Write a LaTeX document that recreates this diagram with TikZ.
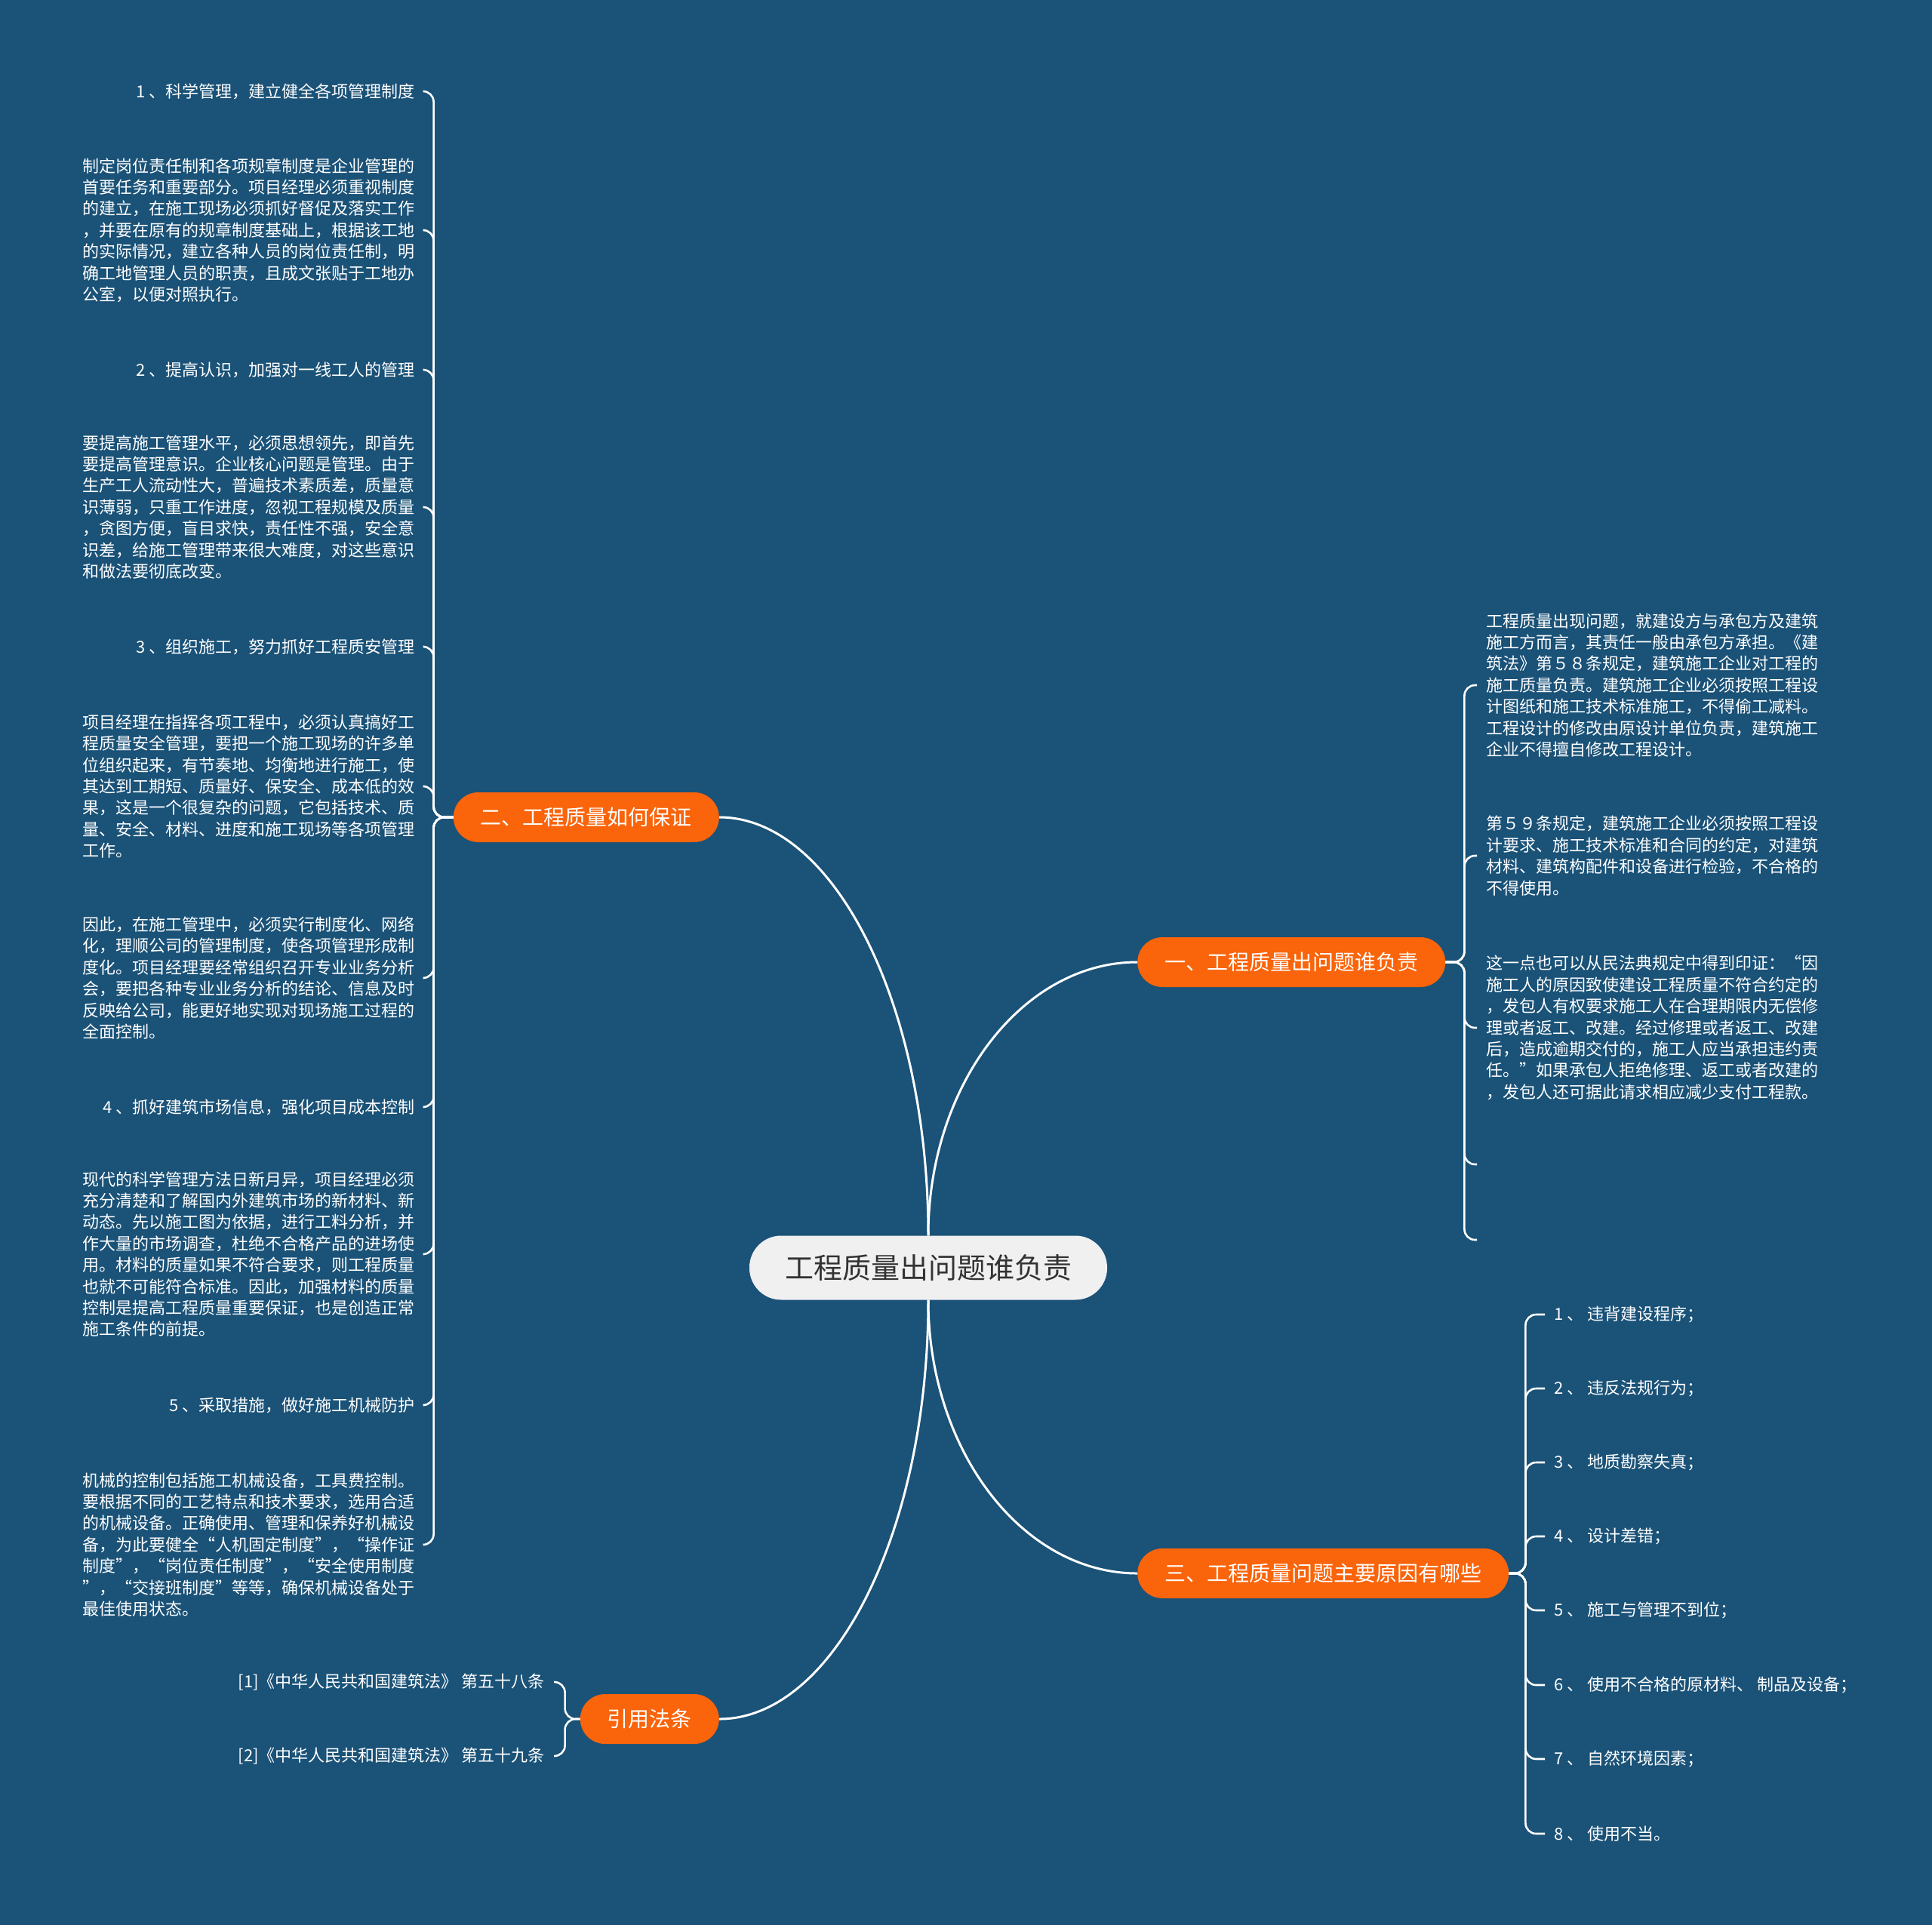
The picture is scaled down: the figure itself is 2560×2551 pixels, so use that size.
\documentclass[tikz,border=0pt]{standalone}
\usepackage{fontspec}
\setmainfont{Noto Sans CJK SC}
\usetikzlibrary{calc}
\definecolor{bgblue}{HTML}{1A5278}
\definecolor{pillorange}{HTML}{FA640A}
\definecolor{rootgray}{HTML}{F0F0F0}
\definecolor{roottext}{HTML}{333333}

\begin{document}
\begin{tikzpicture}[
  x=1pt, y=-1pt,
  rootnode/.style={rectangle, fill=rootgray, text=roottext, rounded corners=42pt, minimum height=85pt, inner xsep=47pt, font=\fontsize{38pt}{46pt}\selectfont},
  branchnode/.style={rectangle, fill=pillorange, text=white, rounded corners=33pt, minimum height=66pt, inner xsep=36pt, font=\fontsize{28pt}{34pt}\selectfont},
  leafnode/.style={inner xsep=12pt, inner ysep=0pt, text=white, align=left, font=\fontsize{22pt}{28.4pt}\selectfont},
  link/.style={draw=white, line width=3pt},
  twig/.style={draw=white, line width=2.6pt, rounded corners=14pt},
]
\useasboundingbox (0,0) rectangle (2560,2551);
\fill[bgblue] (0,0) rectangle (2560,2551);

\node[rootnode] (root) at (1230,1680) {工程质量出问题谁负责};
\node[branchnode, anchor=east] (two)   at (953,1083)  {二、工程质量如何保证};
\node[branchnode, anchor=west] (one)   at (1507,1275) {一、工程质量出问题谁负责};
\node[branchnode, anchor=west] (three) at (1507,2085) {三、工程质量问题主要原因有哪些};
\node[branchnode, anchor=east] (cite)  at (953,2278)  {引用法条};

\node[leafnode, anchor=east] (h1) at (562,121) {1 、科学管理，建立健全各项管理制度};
\node[leafnode, anchor=east] (p1) at (562,305) {制定岗位责任制和各项规章制度是企业管理的\\首要任务和重要部分。项目经理必须重视制度\\的建立，在施工现场必须抓好督促及落实工作\\，并要在原有的规章制度基础上，根据该工地\\的实际情况，建立各种人员的岗位责任制，明\\确工地管理人员的职责，且成文张贴于工地办\\公室，以便对照执行。};
\node[leafnode, anchor=east] (h2) at (562,490) {2 、提高认识，加强对一线工人的管理};
\node[leafnode, anchor=east] (p2) at (562,672) {要提高施工管理水平，必须思想领先，即首先\\要提高管理意识。企业核心问题是管理。由于\\生产工人流动性大，普遍技术素质差，质量意\\识薄弱，只重工作进度，忽视工程规模及质量\\，贪图方便，盲目求快，责任性不强，安全意\\识差，给施工管理带来很大难度，对这些意识\\和做法要彻底改变。};
\node[leafnode, anchor=east] (h3) at (562,857) {3 、组织施工，努力抓好工程质安管理};
\node[leafnode, anchor=east] (p3) at (562,1042) {项目经理在指挥各项工程中，必须认真搞好工\\程质量安全管理，要把一个施工现场的许多单\\位组织起来，有节奏地、均衡地进行施工，使\\其达到工期短、质量好、保安全、成本低的效\\果，这是一个很复杂的问题，它包括技术、质\\量、安全、材料、进度和施工现场等各项管理\\工作。};
\node[leafnode, anchor=east] (p4) at (562,1296) {因此，在施工管理中，必须实行制度化、网络\\化，理顺公司的管理制度，使各项管理形成制\\度化。项目经理要经常组织召开专业业务分析\\会，要把各种专业业务分析的结论、信息及时\\反映给公司，能更好地实现对现场施工过程的\\全面控制。};
\node[leafnode, anchor=east] (h4) at (562,1467) {4 、抓好建筑市场信息，强化项目成本控制};
\node[leafnode, anchor=east] (p5) at (562,1662) {现代的科学管理方法日新月异，项目经理必须\\充分清楚和了解国内外建筑市场的新材料、新\\动态。先以施工图为依据，进行工料分析，并\\作大量的市场调查，杜绝不合格产品的进场使\\用。材料的质量如果不符合要求，则工程质量\\也就不可能符合标准。因此，加强材料的质量\\控制是提高工程质量重要保证，也是创造正常\\施工条件的前提。};
\node[leafnode, anchor=east] (h5) at (562,1862) {5 、采取措施，做好施工机械防护};
\node[leafnode, anchor=east] (p6) at (562,2047) {机械的控制包括施工机械设备，工具费控制。\\要根据不同的工艺特点和技术要求，选用合适\\的机械设备。正确使用、管理和保养好机械设\\备，为此要健全“人机固定制度”，“操作证\\制度”，“岗位责任制度”，“安全使用制度\\”，“交接班制度”等等，确保机械设备处于\\最佳使用状态。};

\node[leafnode, anchor=west] (r1) at (1957,908) {工程质量出现问题，就建设方与承包方及建筑\\施工方而言，其责任一般由承包方承担。《建\\筑法》第５８条规定，建筑施工企业对工程的\\施工质量负责。建筑施工企业必须按照工程设\\计图纸和施工技术标准施工，不得偷工减料。\\工程设计的修改由原设计单位负责，建筑施工\\企业不得擅自修改工程设计。};
\node[leafnode, anchor=west] (r2) at (1957,1134) {第５９条规定，建筑施工企业必须按照工程设\\计要求、施工技术标准和合同的约定，对建筑\\材料、建筑构配件和设备进行检验，不合格的\\不得使用。};
\node[leafnode, anchor=west] (r3) at (1957,1362) {这一点也可以从民法典规定中得到印证：“因\\施工人的原因致使建设工程质量不符合约定的\\，发包人有权要求施工人在合理期限内无偿修\\理或者返工、改建。经过修理或者返工、改建\\后，造成逾期交付的，施工人应当承担违约责\\任。”如果承包人拒绝修理、返工或者改建的\\，发包人还可据此请求相应减少支付工程款。};
\coordinate (r4) at (1957,1543);
\coordinate (r5) at (1957,1643);

\node[leafnode, anchor=west] (t1) at (2047,1742) {1 、 违背建设程序；};
\node[leafnode, anchor=west] (t2) at (2047,1840) {2 、 违反法规行为；};
\node[leafnode, anchor=west] (t3) at (2047,1938) {3 、 地质勘察失真；};
\node[leafnode, anchor=west] (t4) at (2047,2036) {4 、 设计差错；};
\node[leafnode, anchor=west] (t5) at (2047,2134) {5 、 施工与管理不到位；};
\node[leafnode, anchor=west] (t6) at (2047,2233) {6 、 使用不合格的原材料、 制品及设备；};
\node[leafnode, anchor=west] (t7) at (2047,2331) {7 、 自然环境因素；};
\node[leafnode, anchor=west] (t8) at (2047,2430) {8 、 使用不当。};

\node[leafnode, anchor=east] (c1) at (734,2229) {[1]《中华人民共和国建筑法》 第五十八条};
\node[leafnode, anchor=east] (c2) at (734,2327) {[2]《中华人民共和国建筑法》 第五十九条};

\draw[link] (two.east) .. controls ($(two.east)!0.55!(two.east -| root.north)$) and ($(root.north)!0.55!(two.east -| root.north)$) .. (root.north);
\draw[link] (one.west) .. controls ($(one.west)!0.55!(one.west -| root.north)$) and ($(root.north)!0.55!(one.west -| root.north)$) .. (root.north);
\draw[link] (three.west) .. controls ($(three.west)!0.55!(three.west -| root.south)$) and ($(root.south)!0.55!(three.west -| root.south)$) .. (root.south);
\draw[link] (cite.east) .. controls ($(cite.east)!0.55!(cite.east -| root.south)$) and ($(root.south)!0.55!(cite.east -| root.south)$) .. (root.south);

\draw[twig] (two.west) -- ++(-26,0) |- (h1.east);
\draw[twig] (two.west) -- ++(-26,0) |- (p1.east);
\draw[twig] (two.west) -- ++(-26,0) |- (h2.east);
\draw[twig] (two.west) -- ++(-26,0) |- (p2.east);
\draw[twig] (two.west) -- ++(-26,0) |- (h3.east);
\draw[twig] (two.west) -- ++(-26,0) |- (p3.east);
\draw[twig] (two.west) -- ++(-26,0) |- (p4.east);
\draw[twig] (two.west) -- ++(-26,0) |- (h4.east);
\draw[twig] (two.west) -- ++(-26,0) |- (p5.east);
\draw[twig] (two.west) -- ++(-26,0) |- (h5.east);
\draw[twig] (two.west) -- ++(-26,0) |- (p6.east);

\draw[twig] (one.east) -- ++(25,0) |- (r1.west);
\draw[twig] (one.east) -- ++(25,0) |- (r2.west);
\draw[twig] (one.east) -- ++(25,0) |- (r3.west);
\draw[twig] (one.east) -- ++(25,0) |- (r4);
\draw[twig] (one.east) -- ++(25,0) |- (r5);

\draw[twig] (three.east) -- ++(22,0) |- (t1.west);
\draw[twig] (three.east) -- ++(22,0) |- (t2.west);
\draw[twig] (three.east) -- ++(22,0) |- (t3.west);
\draw[twig] (three.east) -- ++(22,0) |- (t4.west);
\draw[twig] (three.east) -- ++(22,0) |- (t5.west);
\draw[twig] (three.east) -- ++(22,0) |- (t6.west);
\draw[twig] (three.east) -- ++(22,0) |- (t7.west);
\draw[twig] (three.east) -- ++(22,0) |- (t8.west);

\draw[twig] (cite.west) -- ++(-20,0) |- (c1.east);
\draw[twig] (cite.west) -- ++(-20,0) |- (c2.east);
\end{tikzpicture}
\end{document}
